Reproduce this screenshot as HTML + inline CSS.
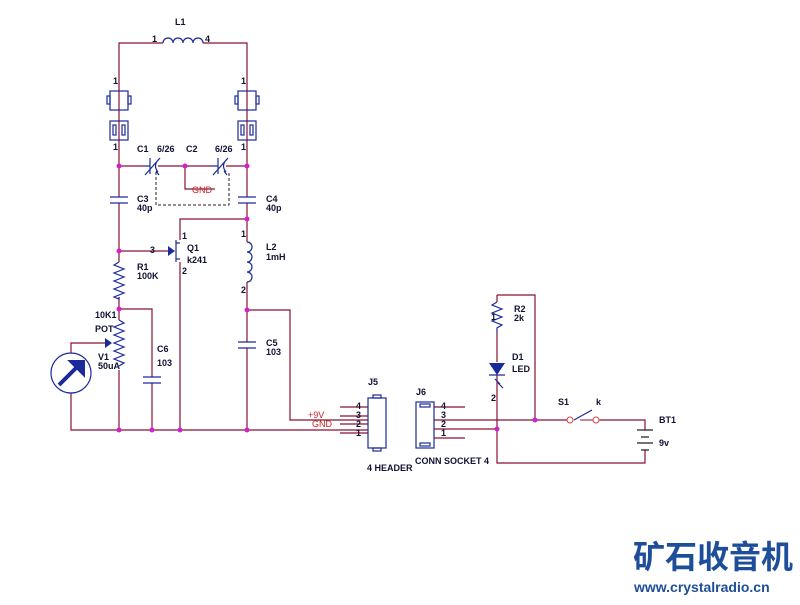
<!DOCTYPE html>
<html><head><meta charset="utf-8"><style>
body{margin:0;background:#fff}
svg text{font-family:"Liberation Sans",Arial,sans-serif;font-size:9px;fill:#111133;font-weight:bold}
</style></head><body>
<svg width="800" height="600" viewBox="0 0 800 600" xmlns="http://www.w3.org/2000/svg">
<g stroke="#8a1030" stroke-width="1.2" fill="none">
<path d="M119,166 V43 H163 M203,43 H247 V166"/>
<path d="M119,166 H143 M158,166 H211 M226,166 H247"/>
<path d="M185,166 V189 H215"/>
<path d="M119,166 V197 M119,203 V262 M119,297 V320 M119,370 V430"/>
<path d="M119,251 H168"/>
<path d="M119,309 H152 V377 M152,383 V430"/>
<path d="M247,166 V197 M247,203 V242 M247,282 V342 M247,348 V430"/>
<path d="M247,219 H180 V240"/>
<path d="M180,262 V430"/>
<path d="M247,310 H290 V420 H368"/>
<path d="M71,353 V343 H105 M71,393 V430 H368"/>
<path d="M340,407 H368 M340,416 H368 M340,424 H368 M340,433 H368"/>
<path d="M434,407 H465 M434,420 H570 M434,429 H497 M434,438 H465"/>
<path d="M497,295 H535 V420 M497,295 V302 M497,333 V362 M497,375 V463 H645 V450 M645,430 V420 H600"/>
</g>
<path d="M156,172 V205 H229 V172" stroke="#222" stroke-dasharray="3,2" fill="none"/>
<g stroke="#1a2a9a" stroke-width="1.2" fill="none">
<path d="M163,43 a5,5 0 0 1 10,0 a5,5 0 0 1 10,0 a5,5 0 0 1 10,0 a5,5 0 0 1 10,0"/>
<rect x="110" y="91" width="18" height="19"/><rect x="107" y="96" width="3" height="8"/><rect x="128" y="96" width="3" height="8"/>
<rect x="110" y="121" width="18" height="19"/><rect x="113" y="125" width="3" height="10"/><rect x="122" y="125" width="3" height="10"/>
<rect x="238" y="91" width="18" height="19"/><rect x="235" y="96" width="3" height="8"/><rect x="256" y="96" width="3" height="8"/>
<rect x="238" y="121" width="18" height="19"/><rect x="241" y="125" width="3" height="10"/><rect x="250" y="125" width="3" height="10"/>
<path d="M143,166 H150 M150,158 V174 M158,160 Q153,166 158,172 M145,175 L160,158 M156,171 L159,175"/>
<path d="M211,166 H218 M218,158 V174 M226,160 Q221,166 226,172 M213,175 L228,158 M224,171 L227,175"/>
<path d="M110,197 H128 M110,203 H128 M238,197 H256 M238,203 H256 M238,342 H256 M238,348 H256 M143,377 H161 M143,383 H161"/>
<path d="M119,262 l-5,3 l10,4 l-10,4 l10,4 l-10,4 l10,4 l-10,4 l10,4 l-10,4 l5,2 V297"/>
<path d="M119,320 l5,3 l-10,4 l10,4 l-10,4 l10,4 l-10,4 l10,4 l-10,4 l10,4 l-10,4 l10,4 l-5,3"/>
<path d="M497,302 l-5,3 l10,4 l-10,4 l10,4 l-10,4 l10,4 l-5,3 V333"/>
<path d="M247,242 a5,5 0 0 1 0,10 a5,5 0 0 1 0,10 a5,5 0 0 1 0,10 a5,5 0 0 1 0,10"/>
<path d="M176,240 V262 M176,243 H180 M176,259 H180"/>
<circle cx="71" cy="373" r="20"/>
<rect x="368" y="398" width="18" height="50"/><rect x="373" y="395" width="8" height="3"/><rect x="373" y="448" width="8" height="3"/>
<rect x="416" y="402" width="18" height="46"/><rect x="420" y="404" width="10" height="3"/><rect x="420" y="443" width="10" height="3"/>
<path d="M489,375 H505 M495,379 l5,5 M498,383 l5,5"/>
</g>
<g stroke="#222" stroke-width="1.2"><path d="M637,430 H653 M641,437 H649 M637,443 H653 M641,450 H649"/></g>
<path d="M600,420 L580,420" stroke="#8a1030"/>
<path d="M574,420 L592,410" stroke="#1a2a9a" stroke-width="1.2"/>
<circle cx="570" cy="420" r="3" fill="#fff" stroke="#d04040"/><circle cx="596" cy="420" r="3" fill="#fff" stroke="#d04040"/>
<path d="M168,246 L175,251 L168,256 Z M105,338 L112,343 L105,348 Z M489,363 H505 L497,375 Z" fill="#1a2a9a"/>
<path d="M59,385 L78,366 M72,362 L83,362 L83,373 Z" stroke="#1a2a9a" stroke-width="4" fill="#1a2a9a"/>
<g fill="#d020d0"><circle cx="119" cy="166" r="2.5"/><circle cx="185" cy="166" r="2.5"/><circle cx="247" cy="166" r="2.5"/><circle cx="247" cy="219" r="2.5"/><circle cx="119" cy="251" r="2.5"/><circle cx="119" cy="309" r="2.5"/><circle cx="247" cy="310" r="2.5"/><circle cx="119" cy="430" r="2.5"/><circle cx="152" cy="430" r="2.5"/><circle cx="180" cy="430" r="2.5"/><circle cx="247" cy="430" r="2.5"/><circle cx="535" cy="420" r="2.5"/><circle cx="497" cy="429" r="2.5"/></g>
<g style="font-size:7px;font-weight:normal">
<text x="113" y="84" font-size="7">1</text><text x="241" y="84" font-size="7">1</text>
<text x="113" y="150" font-size="7">1</text><text x="241" y="150" font-size="7">1</text>
<text x="241" y="237" font-size="7">1</text><text x="241" y="293" font-size="7">2</text>
<text x="182" y="239" font-size="7">1</text><text x="182" y="274" font-size="7">2</text>
<text x="491" y="320" font-size="7">1</text><text x="491" y="401" font-size="7">2</text>
</g>
<text x="175" y="25">L1</text><text x="152" y="42" font-size="8">1</text><text x="205" y="42" font-size="8">4</text>
<text x="137" y="152">C1</text><text x="157" y="152">6/26</text><text x="186" y="152">C2</text><text x="215" y="152">6/26</text>
<text x="192" y="193" style="fill:#d02020;font-weight:normal">GND</text>
<text x="137" y="202">C3</text><text x="137" y="211">40p</text><text x="266" y="202">C4</text><text x="266" y="211">40p</text>
<text x="150" y="253">3</text><text x="187" y="251">Q1</text><text x="187" y="263">k241</text>
<text x="266" y="250">L2</text><text x="266" y="260">1mH</text>
<text x="137" y="270">R1</text><text x="137" y="279">100K</text>
<text x="95" y="318">10K1</text><text x="95" y="332">POT</text><text x="98" y="360">V1</text><text x="98" y="369">50uA</text>
<text x="157" y="352">C6</text><text x="157" y="366">103</text><text x="266" y="346">C5</text><text x="266" y="355">103</text>
<text x="308" y="418" style="fill:#d02020;font-weight:normal">+9V</text><text x="312" y="427" style="fill:#d02020;font-weight:normal">GND</text>
<text x="368" y="385">J5</text><text x="416" y="395">J6</text>
<text x="356" y="409" font-size="8">4</text><text x="356" y="418" font-size="8">3</text><text x="356" y="427" font-size="8">2</text><text x="356" y="436" font-size="8">1</text>
<text x="441" y="409" font-size="8">4</text><text x="441" y="418" font-size="8">3</text><text x="441" y="427" font-size="8">2</text><text x="441" y="436" font-size="8">1</text>
<text x="367" y="471">4 HEADER</text><text x="415" y="464">CONN SOCKET 4</text>
<text x="514" y="312">R2</text><text x="514" y="321">2k</text><text x="512" y="360">D1</text><text x="512" y="372">LED</text>
<text x="558" y="405">S1</text><text x="596" y="405">k</text><text x="659" y="423">BT1</text><text x="659" y="446">9v</text>
<text x="633" y="568" style="font-family:'Noto Sans CJK SC',sans-serif;font-size:32px;font-weight:bold;fill:#1e4e9a">矿石收音机</text>
<text x="634" y="592" style="font-size:14px;font-weight:bold;fill:#1e4e9a">www.crystalradio.cn</text>
</svg>
</body></html>
